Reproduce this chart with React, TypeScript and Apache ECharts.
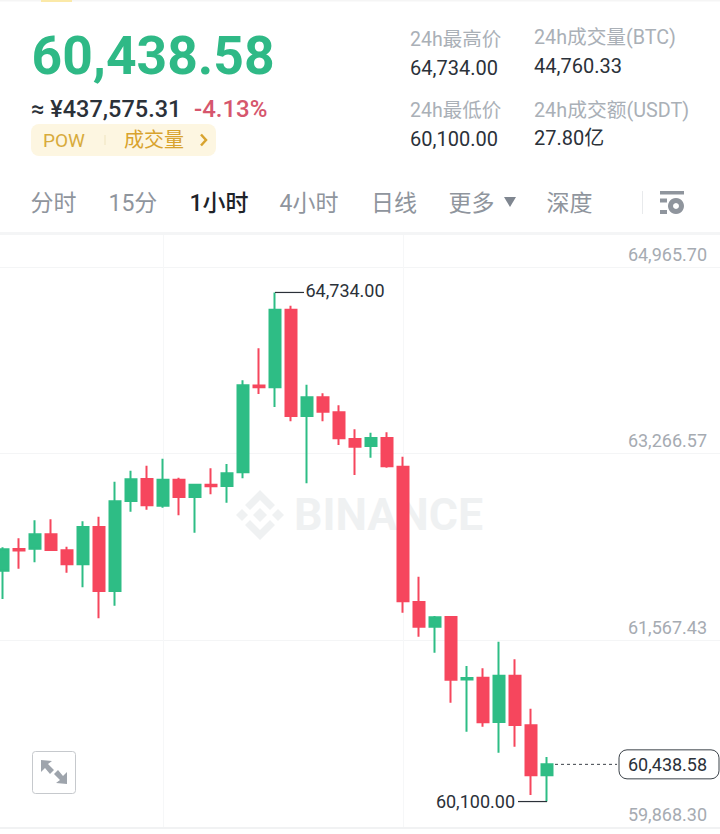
import React, { useEffect, useRef } from "react";
import * as echarts from "echarts";

const FONT = 'Roboto, "Noto Sans CJK SC", sans-serif';
const UP = "#2EBD85";
const DOWN = "#F6465D";
const DARK = "#2b3139";
const GRAY = "#aab0b7";

const opens = [62201,62399,62402,62533,62387,62259,62599,62016,62836,63036,62793,63030,62872,62984,62972,63097,63887,63871,64577,63609,63780,63643,63400,63336,63409,63148,61916,61692,61780,61210,61227,60824,61245,60794,60339];
const closes = [62396,62386,62533,62390,62259,62599,62016,62833,63033,62797,63030,62872,62984,62970,63088,63889,63872,64577,63609,63780,63649,63406,63330,63409,63152,61923,61692,61777,61209,61225,60821,61245,60797,60339,60438.58];
const lows = [61944,62219,62278,62390,62183,62050,61768,61883,62738,62757,62775,62705,62547,62897,62820,63042,63810,63691,63561,62997,63561,63345,63072,63230,63139,61819,61601,61455,61000,60736,60781,60544,60599,60160,60100];
const highs = [62414,62496,62660,62669,62420,62651,62693,63011,63111,63157,63221,63048,62984,63133,63172,63934,64226,64734,64613,63894,63816,63707,63488,63457,63461,63239,62147,61789,61780,61334,61313,61555,61395,60945,60505];
const categories = Array.from({ length: 46 }, (_, i) => String(i));
const yTicks = [64965.7, 63266.57, 61567.43, 59868.3];
const yMin = 59868.3;
const yMax = 65266.1;
const highestIndex = 17;
const highest = 64734;
const lowestIndex = 34;
const lowest = 60100;
const lastIndex = 34;
const lastPrice = 60438.58;
const gridXIndexes = [10, 25];

const fmt = (v: number) =>
  v.toLocaleString("en-US", { minimumFractionDigits: 2, maximumFractionDigits: 2 });

const txt = (text: string, x: number, y: number, fontSize: number, fill: string, extra: any = {}) => ({
  type: "text",
  x,
  y,
  silent: true,
  z: extra.z ?? 5,
  style: {
    text,
    fill,
    fontSize,
    fontFamily: FONT,
    fontWeight: extra.fontWeight ?? 400,
    textAlign: extra.align ?? "left",
    textVerticalAlign: "middle",
  },
});

const poly = (points: number[][], fill: string, z = 5) => ({
  type: "polygon",
  silent: true,
  z,
  shape: { points },
  style: { fill },
});

const rect = (x: number, y: number, width: number, height: number, fill: string, r = 0, extra: any = {}) => ({
  type: "rect",
  silent: true,
  z: extra.z ?? 4,
  shape: { x, y, width, height, r },
  style: { fill, stroke: extra.stroke, lineWidth: extra.lineWidth },
});

const WM = "#eff1f2";
const graphicItems: any[] = [
  rect(0, 0, 720, 1.5, "#f5f5f5"),
  rect(41, 0, 31, 2, "#fbe9a8"),
  txt("60,438.58", 31.5, 55, 53.4, "#2fb986", { fontWeight: 700 }),
  txt("≈ ¥437,575.31", 31, 109, 23.5, DARK, { fontWeight: 500 }),
  txt("-4.13%", 194, 109, 24, "#d6566d", { fontWeight: 500 }),
  rect(31, 124, 185, 32, "#fdf6e1", 8),
  txt("POW", 43, 140, 19, "#d8ab3c"),
  rect(104.5, 135, 1, 10, "#efe3c0"),
  txt("成交量", 124, 140, 20, "#d8a32e"),
  {
    type: "polyline",
    silent: true,
    z: 5,
    shape: { points: [[201, 134.5], [206, 140], [201, 145.5]] },
    style: { stroke: "#d8a32e", lineWidth: 2.5, fill: "none" },
  },
  txt("24h最高价", 410, 39, 19.5, GRAY),
  txt("64,734.00", 410, 68, 20, DARK),
  txt("24h成交量(BTC)", 534, 37, 19.7, GRAY),
  txt("44,760.33", 534, 66, 20, DARK),
  txt("24h最低价", 410, 110, 19.5, GRAY),
  txt("60,100.00", 410, 139, 20, DARK),
  txt("24h成交额(USDT)", 534, 110, 19.8, GRAY),
  txt("27.80亿", 534, 138, 20, DARK),
  txt("分时", 30.5, 203, 23, "#8f959d"),
  txt("15分", 108.5, 203, 23, "#8f959d"),
  txt("1小时", 189.5, 203, 23, "#1e2329", { fontWeight: 500 }),
  txt("4小时", 279.5, 203, 23, "#8f959d"),
  txt("日线", 371, 203, 23, "#8f959d"),
  txt("更多", 448.5, 203, 23, "#8f959d"),
  poly([[504, 197], [516, 197], [510, 207]], "#7f8690"),
  txt("深度", 546.5, 203, 23, "#8f959d"),
  rect(642, 191, 1, 23, "#e8eaec"),
  rect(660, 191, 24, 3.5, "#8f959d"),
  rect(660, 198.5, 7, 4, "#8f959d"),
  rect(660, 210, 7, 4, "#8f959d"),
  {
    type: "ring",
    silent: true,
    z: 5,
    shape: { cx: 676, cy: 206, r: 8, r0: 3 },
    style: { fill: "#8f959d" },
  },
  rect(0, 232, 720, 3, "#f4f5f6"),
  rect(0, 827, 720, 2, "#f1f2f3"),
  // expand button
  rect(32.5, 751.5, 43, 42, "#ffffff", 3, { stroke: "#c6c9cd", lineWidth: 1 }),
  poly([[41, 760], [52, 761], [48, 764], [54, 770], [50, 774], [45, 768], [41, 772]], "#9ea4ac"),
  poly([[67, 784], [56, 783], [60, 780], [54, 774], [58, 770], [63, 776], [67, 772]], "#9ea4ac"),
  // watermark
  poly([[260, 490], [275, 505], [270, 510], [260, 500], [250, 510], [245, 505]], WM, 0),
  poly([[260, 540], [275, 525], [270, 520], [260, 530], [250, 520], [245, 525]], WM, 0),
  poly([[260, 508], [267, 515], [260, 522], [253, 515]], WM, 0),
  poly([[242, 509], [248, 515], [242, 521], [236, 515]], WM, 0),
  poly([[278, 509], [284, 515], [278, 521], [272, 515]], WM, 0),
  { ...txt("BINANCE", 294, 515, 44.6, WM, { fontWeight: 700, z: 0 }) },
];

const annotate = (p: number[], side: number, label: string, textDy: number, textGap: number) => ({
  type: "group",
  children: [
    {
      type: "polyline",
      shape: { points: [[p[0], p[1]], [p[0] + side * 29, p[1]]] },
      style: { stroke: DARK, lineWidth: 1.2, fill: "none" },
    },
    {
      type: "text",
      x: p[0] + side * textGap,
      y: p[1] + textDy,
      style: {
        text: label,
        fill: DARK,
        fontSize: 18,
        fontFamily: FONT,
        textAlign: side > 0 ? "left" : "right",
        textVerticalAlign: "middle",
      },
    },
  ],
});

export default function App() {
  const ref = useRef<HTMLDivElement>(null);
  useEffect(() => {
    const chart = echarts.init(ref.current!, undefined, { renderer: "svg" });
    chart.setOption({
      animation: false,
      backgroundColor: "#ffffff",
      graphic: { elements: graphicItems },
      grid: {
        left: -5,
        top: 234,
        width: 736,
        height: 593,
        containLabel: false,
        outerBoundsMode: "none",
      },
      xAxis: {
        type: "category",
        data: categories,
        axisLine: { show: false },
        axisTick: { show: false },
        axisLabel: { show: false },
        splitLine: {
          show: true,
          alignWithLabel: true,
          interval: (i: number) => gridXIndexes.includes(i),
          lineStyle: { color: "#f6f7f8", width: 1 },
        },
      },
      yAxis: {
        type: "value",
        position: "right",
        offset: -24,
        min: yMin,
        max: yMax,
        scale: true,
        axisLine: { show: false },
        axisTick: { show: false, customValues: yTicks },
        splitLine: { show: true, lineStyle: { color: "#f4f5f6", width: 1 } },
        axisLabel: {
          inside: true,
          customValues: yTicks,
          margin: 0,
          align: "right",
          verticalAlign: "bottom",
          padding: [0, 0, 4, 0],
          color: "#a6abb2",
          fontSize: 18,
          fontFamily: FONT,
          formatter: (v: number) => fmt(v),
        },
      },
      series: [
        {
          type: "candlestick",
          barWidth: 12,
          data: opens.map((o, i) => [o, closes[i], lows[i], highs[i]]),
          itemStyle: {
            color: UP,
            color0: DOWN,
            borderColor: UP,
            borderColor0: DOWN,
            borderWidth: 2,
          },
        },
        {
          type: "custom",
          clip: false,
          silent: true,
          z: 6,
          data: [[highestIndex, highest]],
          renderItem: (_: any, api: any) => {
            const p = api.coord([api.value(0), api.value(1)]);
            return annotate(p, 1, fmt(highest), -2, 30.5);
          },
        },
        {
          type: "custom",
          clip: false,
          silent: true,
          z: 6,
          data: [[lowestIndex, lowest]],
          renderItem: (_: any, api: any) => {
            const p = api.coord([api.value(0), api.value(1)]);
            return annotate(p, -1, fmt(lowest), 0, 32);
          },
        },
        {
          type: "custom",
          clip: false,
          silent: true,
          z: 6,
          data: [[lastIndex, lastPrice]],
          renderItem: (_: any, api: any) => {
            const p = api.coord([api.value(0), api.value(1)]);
            return {
              type: "group",
              children: [
                {
                  type: "line",
                  shape: { x1: p[0] + 8, y1: p[1], x2: p[0] + 70, y2: p[1] },
                  style: { stroke: "#3b4249", lineWidth: 1, lineDash: [3, 3] },
                },
                {
                  type: "rect",
                  shape: { x: p[0] + 72, y: p[1] - 14.5, width: 100, height: 29, r: 8 },
                  style: { fill: "#ffffff", stroke: "#3b4249", lineWidth: 1 },
                },
                {
                  type: "text",
                  x: p[0] + 81,
                  y: p[1],
                  style: {
                    text: fmt(lastPrice),
                    fill: DARK,
                    fontSize: 18,
                    fontFamily: FONT,
                    textAlign: "left",
                    textVerticalAlign: "middle",
                  },
                },
              ],
            };
          },
        },
      ],
    });
    return () => chart.dispose();
  }, []);
  return (
    <div
      ref={ref}
      style={{ position: "absolute", left: 0, top: 0, width: 720, height: 834, overflow: "hidden" }}
    />
  );
}
